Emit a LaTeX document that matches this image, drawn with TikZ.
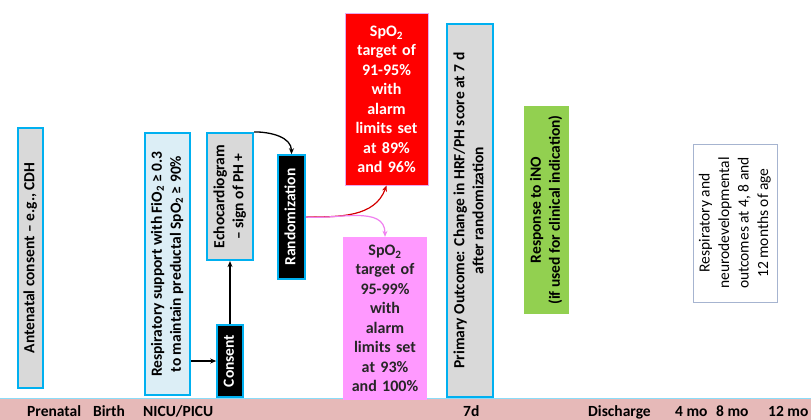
\documentclass[tikz,border=0pt]{standalone}
\usepackage{fontspec}
\usepackage{graphicx}
\setmainfont{Carlito}
\usetikzlibrary{arrows.meta}
\definecolor{cyanb}{HTML}{00B0F0}
\definecolor{grayf}{HTML}{D9D9D9}
\definecolor{lblue}{HTML}{DCEEF6}
\definecolor{redf}{HTML}{FF0000}
\definecolor{pinkf}{HTML}{FF99FF}
\definecolor{greenf}{HTML}{92D050}
\definecolor{barf}{HTML}{E6B9B8}
\definecolor{violetb}{HTML}{E8A8F0}
\definecolor{grayb}{HTML}{A6B4D0}
\definecolor{redarrow}{HTML}{D40000}
\definecolor{pinkarrow}{HTML}{F080F0}
\newcommand\vtext[1]{\rotatebox{90}{\begin{tabular}{@{}c@{}}#1\end{tabular}}}
\begin{document}
\begin{tikzpicture}[x=1pt,y=-1pt,
  box/.style={draw=cyanb, line width=2.2pt, inner sep=0pt, align=center,
    font=\bfseries\fontsize{15.5}{19}\selectfont},
  blackbox/.style={box, fill=black, text=white, line width=1.6pt},
  target/.style={inner sep=0pt, align=center, text width=80pt,
    font=\bfseries\fontsize{16}{19.5}\selectfont},
  bartext/.style={inner sep=0pt, font=\bfseries\fontsize{15.5}{18}\selectfont},
  conn/.style={-{Stealth[length=6pt,width=5pt]}, line width=1.3pt}]
\useasboundingbox (0,0) rectangle (811,420);
\fill[white] (0,0) rectangle (811,420);

% bottom timeline bar
\node[fill=barf, minimum width=811pt, minimum height=22pt, inner sep=0pt, anchor=north west] (bar) at (0,398) {};
\draw[cyanb!45, line width=0.8pt] (bar.north west) -- (bar.north east);
\node[bartext, anchor=base west] (tpre) at (27,416) {Prenatal};
\node[bartext, anchor=base west] (tbirth) at (93,416) {Birth};
\node[bartext, anchor=base west] (tnicu) at (143,416) {NICU/PICU};
\node[bartext, anchor=base west] (tseven) at (463,416) {7d};
\node[bartext, anchor=base west] (tdis) at (588,416) {Discharge};
\node[bartext, anchor=base west] (tfour) at (675,416) {4 mo};
\node[bartext, anchor=base west] (teight) at (716,416) {8 mo};
\node[bartext, anchor=base west] (ttwelve) at (768,416) {12 mo};

% boxes
\node[box, fill=grayf, minimum width=25pt, minimum height=260pt] (ante) at (30.5,258)
  {\vtext{Antenatal consent -- e.g., CDH}};
\node[box, fill=lblue, minimum width=45pt, minimum height=262pt] (resp) at (167.5,264)
  {\vtext{Respiratory support with FiO\textsubscript{2} ≥ 0.3\\to maintain preductal SpO\textsubscript{2} ≥ 90\%}};
\node[box, fill=grayf, minimum width=46pt, minimum height=127pt] (echo) at (230,196.5)
  {\vtext{Echocardiogram\\-- sign of PH +}};
\node[blackbox, minimum width=27pt, minimum height=124pt] (rand) at (291.5,217)
  {\vtext{Randomization}};
\node[blackbox, minimum width=26pt, minimum height=72pt] (consent) at (230,361)
  {\vtext{Consent}};
\node[target, fill=redf, text=white, draw=violetb, line width=1pt, minimum width=83pt, minimum height=171pt] (red) at (386.5,99.5)
  {SpO\textsubscript{2}\\target of\\91-95\%\\with\\alarm\\limits set\\at 89\%\\and 96\%};
\node[target, fill=pinkf, text=black!85, minimum width=84pt, minimum height=163pt] (pink) at (385,318.5)
  {SpO\textsubscript{2}\\target of\\95-99\%\\with\\alarm\\limits set\\at 93\%\\and 100\%};
\node[box, fill=grayf, minimum width=46pt, minimum height=373pt] (prim) at (470,210.5)
  {\vtext{Primary Outcome: Change in HRF/PH score at 7 d\\after randomization}};
\node[box, draw=none, fill=greenf, minimum width=45pt, minimum height=208pt] (ino) at (546.5,210)
  {\vtext{Response to iNO\\(if used for clinical indication)}};
\node[box, draw=grayb, line width=0.8pt, fill=white, minimum width=84pt, minimum height=158pt,
  font=\mdseries\fontsize{15.5}{19.5}\selectfont] (outc) at (735,223)
  {\vtext{Respiratory and\\neurodevelopmental\\outcomes at 4, 8 and\\12 months of age}};

% connectors
\draw[conn] (consent.west -| resp.east) -- (consent.west);
\draw[conn] (consent.north) -- (echo.south);
\draw[conn] (echo.north east) to[out=0, in=90] (rand.north);
\draw[conn, draw=redarrow, line width=1.2pt] (rand.east) to[out=0, in=250] (red.south);
\draw[conn, draw=pinkarrow, line width=1.2pt] (rand.east) to[out=-5, in=90] (pink.north);
\end{tikzpicture}
\end{document}
